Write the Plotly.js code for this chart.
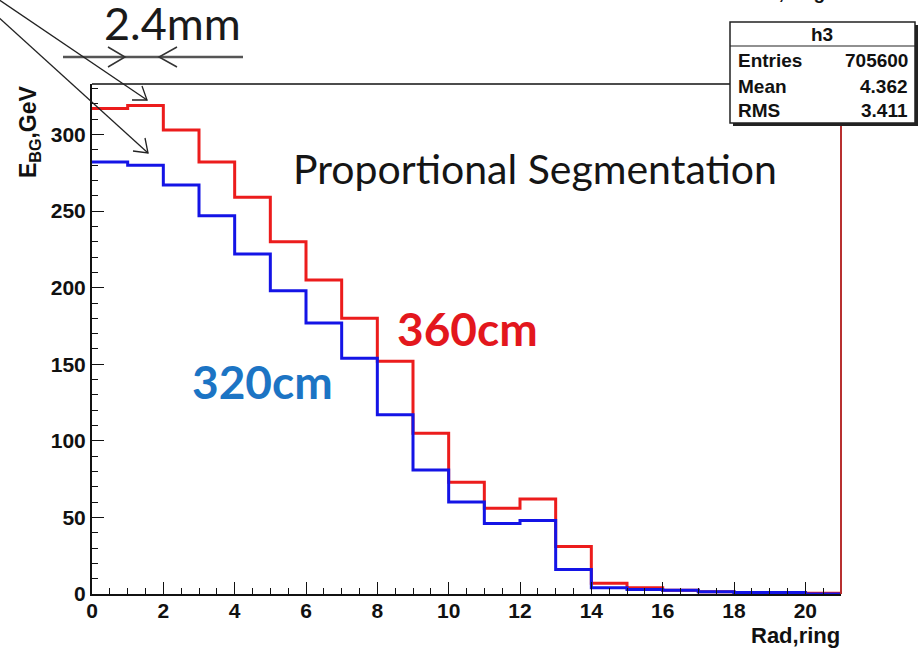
<!DOCTYPE html>
<html>
<head>
<meta charset="utf-8">
<script src="https://cdn.plot.ly/plotly-3.0.1.min.js"></script>
<style>html,body{margin:0;padding:0;background:#fff;}#chart{width:923px;height:652px;}</style>
</head>
<body>
<div id="chart"></div>
<script>
// ---- data ----
const binLabel = "Rad,ring";
const red360 = [317, 319, 303, 282, 259, 230, 205, 180, 152, 105, 73, 56, 62, 31, 7, 4, 2.5, 1.5, 1, 1, 0.5];
const blue320 = [282, 280, 267, 247, 222, 198, 177, 154, 117, 81, 60, 46, 48, 16, 4, 3, 2.5, 1.5, 1, 1, 0];
const statNames = ["Entries", "Mean", "RMS"];
const statValues = ["705600", "4.362", "3.411"];
const histName = "h3";

// ---- geometry helpers (pixel -> paper) ----
const W = 923, H = 652, L = 92, R = 841, T = 84, B = 594;
const px = x => (x - L) / (R - L);
const py = y => (B - y) / (B - T);

function edges(n) { const e = []; for (let i = 0; i <= n; i++) e.push(i); return e; }
function stepY(v) { return v.concat([v[v.length - 1]]); }

const traces = [
  { x: edges(red360.length), y: stepY(red360), type: 'scatter', mode: 'lines',
    line: { shape: 'hv', color: '#ec1c1c', width: 3 }, hoverinfo: 'skip' },
  { x: edges(blue320.length), y: stepY(blue320), type: 'scatter', mode: 'lines',
    line: { shape: 'hv', color: '#1414e6', width: 3 }, hoverinfo: 'skip' }
];

const tickFont = { family: 'Liberation Sans, Arial, sans-serif', size: 21, color: '#111', weight: 'bold' };

function chevron(tx, ty, a1x, a1y, a2x, a2y, color, w) {
  return { type: 'path', xref: 'paper', yref: 'paper', layer: 'above',
    path: `M ${px(a1x)} ${py(a1y)} L ${px(tx)} ${py(ty)} L ${px(a2x)} ${py(a2y)}`,
    line: { color: color, width: w } };
}
function seg(x0, y0, x1, y1, color, w) {
  return { type: 'line', xref: 'paper', yref: 'paper', layer: 'above',
    x0: px(x0), y0: py(y0), x1: px(x1), y1: py(y1), line: { color: color, width: w } };
}

const shapes = [
  // frame top and right (red) edges
  seg(L, T, R, T, '#111', 1.5),
  seg(R, B, R, T, '#b83030', 2),
  // dimension line with inward arrows
  seg(63, 57, 243, 57, '#555', 2.5),
  chevron(125, 57, 108, 47, 108, 67, '#333', 1.5),
  chevron(159, 57, 177, 47, 177, 67, '#333', 1.5),
  // diagonal pointer arrows
  seg(-5, -3, 147, 100, '#222', 1.3),
  chevron(147, 100, 132, 100, 142, 86, '#222', 1.3),
  seg(-5, 14, 148, 153, '#222', 1.3),
  chevron(148, 153, 133, 151, 145, 138, '#222', 1.3),
  // stats box: shadow, box, divider
  { type: 'rect', xref: 'paper', yref: 'paper', layer: 'above',
    x0: px(733), x1: px(918), y0: py(25), y1: py(126), fillcolor: '#222', line: { width: 0 } },
  { type: 'rect', xref: 'paper', yref: 'paper', layer: 'above',
    x0: px(730), x1: px(915), y0: py(22), y1: py(123), fillcolor: '#fff', line: { color: '#222', width: 1.5 } },
  seg(730, 46, 915, 46, '#222', 1.2)
];

const ann = [];
function txt(text, x, y, opt) {
  ann.push(Object.assign({ text: text, xref: 'paper', yref: 'paper', x: px(x), y: py(y),
    showarrow: false, xanchor: 'center', yanchor: 'middle', borderpad: 0 }, opt));
}
const boldArial = (s, c) => ({ family: 'Liberation Sans, Arial, sans-serif', size: s, color: c || '#111', weight: 'bold' });

txt('2.4mm', 172, 23, { font: { family: 'Lato, sans-serif', size: 45, color: '#1a1a1a' } });
txt('Proportional Segmentation', 292, 168, { xanchor: 'left', font: { family: 'Lato, sans-serif', size: 41, color: '#151515' } });
txt('360cm', 396, 328, { xanchor: 'left', font: { family: 'Lato, sans-serif', size: 46, color: '#e3171d', weight: 'bold' } });
txt('320cm', 191, 382, { xanchor: 'left', font: { family: 'Lato, sans-serif', size: 46, color: '#1c74c4', weight: 'bold' } });
txt('R, ring', 795, -7, { font: boldArial(19) });
txt(binLabel, 841, 635, { xanchor: 'right', font: boldArial(22) });
txt('E<sub>BG</sub>,GeV', 29, 132, { textangle: -90, font: boldArial(23) });
txt(histName, 822, 35, { font: boldArial(19) });
const rowsY = [61, 86, 110];
statNames.forEach((n, i) => {
  txt(n, 737, rowsY[i], { xanchor: 'left', font: boldArial(19) });
  txt(statValues[i], 909, rowsY[i], { xanchor: 'right', font: boldArial(19) });
});

const layout = {
  width: W, height: H,
  margin: { l: L, r: W - R, t: T, b: H - B, pad: 0 },
  paper_bgcolor: '#fff', plot_bgcolor: '#fff',
  showlegend: false,
  xaxis: { range: [0, 21], showgrid: false, zeroline: false, showline: true, linecolor: '#111', linewidth: 2,
    ticks: 'inside', ticklen: 12, tickwidth: 1, tickcolor: '#111', tick0: 0, dtick: 2,
    minor: { dtick: 0.5, ticks: 'inside', ticklen: 6, tickcolor: '#111', tickwidth: 1, showgrid: false },
    tickfont: tickFont, ticklabelstandoff: -3, fixedrange: true },
  yaxis: { range: [0, 333], showgrid: false, zeroline: false, showline: true, linecolor: '#111', linewidth: 2,
    ticks: 'inside', ticklen: 12, tickwidth: 1, tickcolor: '#111', tick0: 0, dtick: 50,
    minor: { dtick: 10, ticks: 'inside', ticklen: 6, tickcolor: '#111', tickwidth: 1, showgrid: false },
    tickfont: tickFont, fixedrange: true },
  shapes: shapes,
  annotations: ann
};

Plotly.newPlot('chart', traces, layout, { displayModeBar: false, staticPlot: true });
</script>
</body>
</html>
